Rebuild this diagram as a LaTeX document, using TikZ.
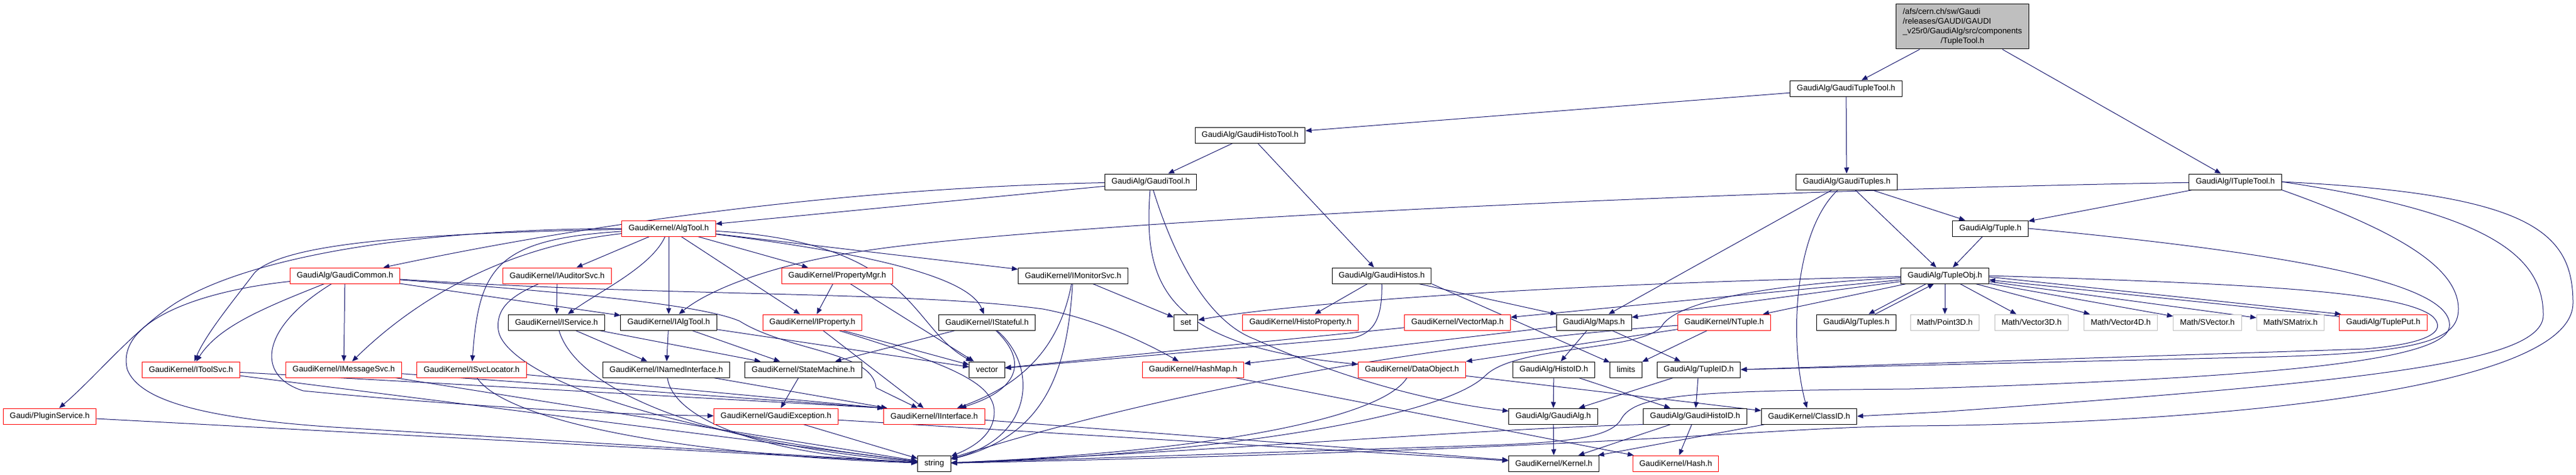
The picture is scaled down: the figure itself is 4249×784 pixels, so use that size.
\documentclass[tikz,border=0pt]{standalone}
\usepackage{fontspec}
\setmainfont{Liberation Sans}
\usetikzlibrary{arrows.meta,backgrounds}
\definecolor{edgeblue}{HTML}{191970}
\definecolor{rootgray}{HTML}{BFBFBF}
\definecolor{mathgray}{HTML}{BFBFBF}

\begin{document}
\begin{tikzpicture}[x=1pt, y=-1pt,
  hdr/.style={draw=black, fill=white, line width=1pt, inner xsep=11pt, inner ysep=0pt, minimum height=26pt, font=\fontsize{13.3}{16}\selectfont},
  cut/.style={hdr, draw=red},
  ext/.style={hdr, draw=mathgray},
  dep/.style={draw=edgeblue, line width=1pt, -{Triangle[length=10pt,width=8pt]}}]
\useasboundingbox (0,0) rectangle (4249,784);

\node[hdr, fill=rootgray, minimum width=218pt, minimum height=74pt, inner ysep=2pt] (root) at (3237,44) {\begin{tabular}{@{}l@{}}/afs/cern.ch/sw/Gaudi\\/releases/GAUDI/GAUDI\\\_v25r0/GaudiAlg/src/components\\\multicolumn{1}{@{}c@{}}{/TupleTool.h}\end{tabular}};
\node[hdr] (gtupletool) at (3045,146) {GaudiAlg/GaudiTupleTool.h};
\node[hdr] (ghistotool) at (2062,223) {GaudiAlg/GaudiHistoTool.h};
\node[hdr] (gtool) at (1898,300) {GaudiAlg/GaudiTool.h};
\node[hdr] (gtuples) at (3046,300) {GaudiAlg/GaudiTuples.h};
\node[hdr] (ituple) at (3687,300) {GaudiAlg/ITupleTool.h};
\node[cut] (algtool) at (1103,377) {GaudiKernel/AlgTool.h};
\node[hdr] (tuple) at (3283,377) {GaudiAlg/Tuple.h};
\node[cut] (gcommon) at (569,455) {GaudiAlg/GaudiCommon.h};
\node[cut] (iauditor) at (919,455) {GaudiKernel/IAuditorSvc.h};
\node[cut] (propmgr) at (1381,455) {GaudiKernel/PropertyMgr.h};
\node[hdr] (imonitor) at (1770,455) {GaudiKernel/IMonitorSvc.h};
\node[hdr] (ghistos) at (2279,455) {GaudiAlg/GaudiHistos.h};
\node[hdr] (tupleobj) at (3208,455) {GaudiAlg/TupleObj.h};
\node[hdr] (iservice) at (918,532) {GaudiKernel/IService.h};
\node[hdr] (ialgtool) at (1103,532) {GaudiKernel/IAlgTool.h};
\node[cut] (iproperty) at (1340,532) {GaudiKernel/IProperty.h};
\node[hdr] (istateful) at (1628,532) {GaudiKernel/IStateful.h};
\node[hdr] (set) at (1956,532) {set};
\node[cut] (histoprop) at (2145,532) {GaudiKernel/HistoProperty.h};
\node[cut] (vectormap) at (2404,532) {GaudiKernel/VectorMap.h};
\node[hdr] (maps) at (2629,532) {GaudiAlg/Maps.h};
\node[cut] (ntuple) at (2844,532) {GaudiKernel/NTuple.h};
\node[hdr] (tuples) at (3062,532) {GaudiAlg/Tuples.h};
\foreach \x/\n/\t in {3208/point3d/Point3D, 3351/vector3d/Vector3D, 3498/vector4d/Vector4D, 3641/svector/SVector, 3778/smatrix/SMatrix}
  \node[ext] (\n) at (\x,532) {Math/\t.h};
\node[cut] (tupleput) at (3931,532) {GaudiAlg/TuplePut.h};
\node[cut] (itoolsvc) at (315,610) {GaudiKernel/IToolSvc.h};
\node[cut] (imsgsvc) at (567,610) {GaudiKernel/IMessageSvc.h};
\node[cut] (isvcloc) at (778,610) {GaudiKernel/ISvcLocator.h};
\node[hdr] (inamed) at (1099,610) {GaudiKernel/INamedInterface.h};
\node[hdr] (statemach) at (1325,610) {GaudiKernel/StateMachine.h};
\node[hdr] (vector) at (1628,610) {vector};
\node[cut] (hashmap) at (1968,610) {GaudiKernel/HashMap.h};
\node[cut] (dataobj) at (2329,610) {GaudiKernel/DataObject.h};
\node[hdr] (histoid) at (2563,610) {GaudiAlg/HistoID.h};
\node[hdr] (limits) at (2682,610) {limits};
\node[hdr] (tupleid) at (2802,610) {GaudiAlg/TupleID.h};
\node[cut] (plugin) at (82,687) {Gaudi/PluginService.h};
\node[cut] (gexcept) at (1280,687) {GaudiKernel/GaudiException.h};
\node[cut] (iinterface) at (1541,687) {GaudiKernel/IInterface.h};
\node[hdr] (gaudialg) at (2562,687) {GaudiAlg/GaudiAlg.h};
\node[hdr] (ghistoid) at (2796,687) {GaudiAlg/GaudiHistoID.h};
\node[hdr] (classid) at (2984,687) {GaudiKernel/ClassID.h};
\node[hdr] (string) at (1541,765) {string};
\node[hdr] (kernel) at (2563,765) {GaudiKernel/Kernel.h};
\node[cut] (hash) at (2764,765) {GaudiKernel/Hash.h};

\begin{scope}[on background layer]
\foreach \a/\b in {root/gtupletool, root/ituple, gtupletool/ghistotool, gtupletool/gtuples,
    ghistotool/gtool, ghistotool/ghistos, gtool/algtool, gtuples/maps, gtuples/tupleobj,
    gtuples/tuple, ituple/tuple, tuple/tupleobj, algtool/iauditor, algtool/ialgtool,
    algtool/iproperty, algtool/propmgr, algtool/imonitor, iauditor/iservice, gcommon/imsgsvc,
    gcommon/ialgtool, iservice/inamed, iservice/statemach, ialgtool/inamed, ialgtool/statemach,
    ialgtool/vector, propmgr/iproperty, propmgr/vector, iproperty/vector, iproperty/iinterface,
    istateful/statemach, imonitor/set, inamed/iinterface, statemach/gexcept, itoolsvc/string,
    imsgsvc/string, plugin/string, gexcept/string, ghistos/histoprop, ghistos/maps,
    vectormap/vector, maps/hashmap, maps/histoid, maps/tupleid, ntuple/dataobj, ntuple/limits,
    histoid/gaudialg, histoid/ghistoid, tupleid/gaudialg, tupleid/ghistoid, dataobj/classid,
    gaudialg/kernel, ghistoid/kernel, ghistoid/hash, classid/kernel, hashmap/hash,
    iinterface/kernel, gexcept/kernel, tupleobj/maps, tupleobj/vectormap, tupleobj/ntuple,
    tupleobj/point3d, tupleobj/vector3d, tupleobj/vector4d, tupleobj/svector, tupleobj/smatrix}
  \draw[dep] (\a) -- (\b);
\draw[dep] (ghistos.south east) -- (limits);
\draw[dep] (itoolsvc) -- (iinterface.north west);
\draw[dep] (imsgsvc) -- (iinterface.north west);
\draw[dep] (isvcloc) -- (iinterface.north west);
\draw[dep] ([yshift=-2pt]tupleobj.east) -- ([xshift=3pt]tupleput.north west);
\draw[dep] ([yshift=-4pt]tupleput.north west) -- ([yshift=-7pt]tupleobj.east);
\draw[dep] ([xshift=-31pt]tupleobj.south) -- ([xshift=20pt]tuples.north);
\draw[dep] ([xshift=31pt]tuples.north) -- ([xshift=-18pt]tupleobj.south);

\draw[dep] (gtool) .. controls (1300,312) and (850,395) .. (gcommon);
\draw[dep] (gtool) .. controls (1885,470) and (1920,570) .. (dataobj);
\draw[dep] (gtool) .. controls (1935,420) and (1990,530) .. (2070,560) .. controls (2180,610) and (2330,660) .. (gaudialg);
\draw[dep] (gtuples) .. controls (2960,380) and (2950,560) .. (classid);
\draw[dep] (ituple) .. controls (2800,315) and (1700,370) .. (1420,415) .. controls (1300,432) and (1180,470) .. (ialgtool);
\draw[dep] (algtool) .. controls (700,378) and (420,420) .. (290,500) .. controls (220,545) and (160,620) .. (plugin);
\draw[dep] (algtool) .. controls (700,385) and (470,400) .. (420,450) .. controls (390,490) and (340,550) .. (itoolsvc);
\draw[dep] (algtool) .. controls (850,405) and (700,480) .. (imsgsvc);
\draw[dep] (algtool) .. controls (820,395) and (790,440) .. (isvcloc);
\draw[dep] (algtool) .. controls (1075,440) and (990,480) .. (iservice);
\draw[dep] (algtool) .. controls (1450,420) and (1600,460) .. (istateful);
\draw[dep] (algtool) .. controls (1510,400) and (1500,540) .. (vector);
\draw[dep] (gcommon) .. controls (430,510) and (360,540) .. (itoolsvc);
\draw[dep] (gcommon) .. controls (330,480) and (190,530) .. (210,610) .. controls (230,660) and (330,690) .. (550,705) -- (string);
\draw[dep] (gcommon) .. controls (430,540) and (420,620) .. (500,645) .. controls (700,665) and (1000,685) .. (gexcept);
\draw[dep] (gcommon) .. controls (1100,490) and (1500,480) .. (1720,510) .. controls (1800,525) and (1880,560) .. (hashmap);
\draw[dep] (gcommon) .. controls (900,480) and (1150,500) .. (1220,530) .. controls (1300,580) and (1440,580) .. (1445,640) -- (iinterface);
\draw[dep] (iauditor) .. controls (840,490) and (818,510) .. (822,545) .. controls (830,600) and (1000,700) .. (string);
\draw[dep] (iservice) .. controls (950,640) and (1150,730) .. (string);
\draw[dep] (isvcloc) .. controls (830,690) and (1100,750) .. (string);
\draw[dep] (inamed) .. controls (1110,690) and (1250,750) .. (string);
\draw[dep] (iproperty) .. controls (1560,600) and (1640,630) .. (1640,680) .. controls (1640,720) and (1600,740) .. (string);
\draw[dep] (istateful) .. controls (1690,590) and (1690,640) .. (iinterface);
\draw[dep] (istateful) .. controls (1710,600) and (1710,720) .. (string);
\draw[dep] (imonitor) .. controls (1750,560) and (1700,630) .. (iinterface);
\draw[dep] (imonitor) .. controls (1760,620) and (1720,720) .. (string);
\draw[dep] (ghistos) .. controls (2280,520) and (2270,550) .. (2230,558) -- (vector);
\draw[dep] (tupleobj) .. controls (2500,470) and (2100,505) .. (set);
\draw[dep] (tupleobj) .. controls (2900,470) and (2760,500) .. (2740,540) .. controls (2700,580) and (2500,570) .. (2450,620) .. controls (2380,690) and (2000,750) .. (string);
\draw[dep] (ntuple) .. controls (2500,555) and (2000,620) .. (string);
\draw[dep] (dataobj) .. controls (2280,690) and (2000,745) .. (string);
\draw[dep] (ghistoid.south west) .. controls (2400,710) and (2000,745) .. (string);
\draw[dep] (tupleobj.east) .. controls (3700,468) and (3960,480) .. (4012,522) .. controls (4040,548) and (4000,568) .. (3900,576) -- (tupleid.east);
\draw[dep] (ituple.south east) .. controls (3950,380) and (4055,440) .. (4055,510) .. controls (4055,560) and (4000,585) .. (3700,590) -- (tupleid.east);
\draw[dep] (ituple.east) .. controls (4100,350) and (4195,420) .. (4195,520) .. controls (4195,600) and (3900,630) .. (3200,680) -- (classid.east);
\draw[dep] (ituple.east) .. controls (4170,320) and (4244,380) .. (4244,500) .. controls (4244,650) and (3600,700) .. (3150,703) .. controls (2900,706) and (2700,740) .. (string);
\draw[dep] (tuple.east) .. controls (3800,420) and (4050,470) .. (4040,540) .. controls (4030,600) and (3700,625) .. (3150,642) .. controls (2800,645) and (2700,650) .. (2675,690) .. controls (2660,720) and (2600,730) .. (2450,735) -- (string);
\end{scope}
\end{tikzpicture}
\end{document}
